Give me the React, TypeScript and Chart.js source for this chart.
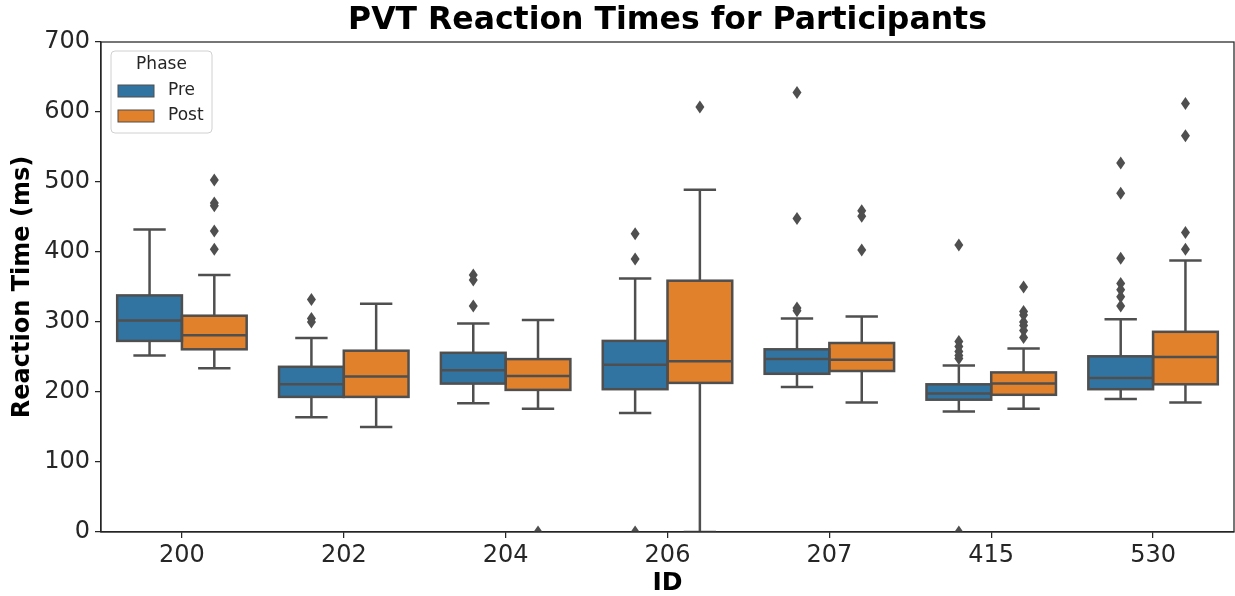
import React, { useEffect, useRef } from 'react';
import { Chart, registerables } from 'chart.js';

Chart.register(...registerables);

const ids = ['200', '202', '204', '206', '207', '415', '530'];
const yTicks = [0, 100, 200, 300, 400, 500, 600, 700];

const preLow = [252, 164, 184, 170, 207, 172, 190];
const preQ1 = [273, 193, 212, 204, 226, 189, 204];
const preMedian = [302, 211, 231, 239, 247, 198, 220];
const preQ3 = [338, 236, 256, 273, 261, 211, 251];
const preHigh = [432, 277, 298, 362, 305, 238, 304];
const preOutliers = [
  [],
  [332, 305, 300],
  [367, 360, 323],
  [426, 390, 0],
  [628, 448, 320, 316],
  [410, 272, 265, 258, 252, 248, 0],
  [527, 484, 391, 355, 346, 336, 323],
];

const postLow = [234, 150, 176, 0, 185, 176, 185];
const postQ1 = [261, 193, 203, 213, 230, 196, 211];
const postMedian = [281, 222, 223, 244, 246, 212, 250];
const postQ3 = [309, 259, 247, 359, 270, 228, 286];
const postHigh = [367, 326, 303, 489, 308, 262, 388];
const postOutliers = [
  [503, 470, 466, 430, 404],
  [],
  [0],
  [607],
  [459, 451, 403],
  [350, 315, 310, 300, 295, 288, 278],
  [612, 566, 428, 404],
];

const PRE_COLOR = '#3274a1';
const POST_COLOR = '#e1812c';
const LINE_COLOR = '#4f4f4f';
const AXIS_COLOR = '#262626';
const FONT = '"DejaVu Sans", sans-serif';

const series = [
  { name: 'Pre', color: PRE_COLOR, low: preLow, q1: preQ1, med: preMedian, q3: preQ3, high: preHigh, out: preOutliers },
  { name: 'Post', color: POST_COLOR, low: postLow, q1: postQ1, med: postMedian, q3: postQ3, high: postHigh, out: postOutliers },
];

const boxPlugin = {
  id: 'boxDetails',
  afterDatasetsDraw(chart: any) {
    const ctx = chart.ctx;
    const ys = chart.scales.y;
    const area = chart.chartArea;
    const py = (v: number) => ys.getPixelForValue(v);
    ctx.save();
    ctx.beginPath();
    ctx.rect(area.left, area.top, area.right - area.left, area.bottom - area.top);
    ctx.clip();
    ctx.strokeStyle = LINE_COLOR;
    ctx.fillStyle = LINE_COLOR;
    ctx.lineWidth = 2.5;
    const line = (x1: number, y1: number, x2: number, y2: number) => {
      ctx.beginPath();
      ctx.moveTo(x1, y1);
      ctx.lineTo(x2, y2);
      ctx.stroke();
    };
    series.forEach((s, di) => {
      const meta = chart.getDatasetMeta(di);
      meta.data.forEach((bar: any, i: number) => {
        const { x, width } = bar.getProps(['x', 'width'], true);
        const left = x - width / 2;
        const right = x + width / 2;
        line(x, py(s.q1[i]), x, py(s.low[i]));
        line(x, py(s.q3[i]), x, py(s.high[i]));
        line(x - width / 4, py(s.low[i]), x + width / 4, py(s.low[i]));
        line(x - width / 4, py(s.high[i]), x + width / 4, py(s.high[i]));
        ctx.strokeRect(left, py(s.q3[i]), width, py(s.q1[i]) - py(s.q3[i]));
        line(left, py(s.med[i]), right, py(s.med[i]));
        s.out[i].forEach((v: number) => {
          const cy = py(v);
          ctx.beginPath();
          ctx.moveTo(x, cy - 6.5);
          ctx.lineTo(x + 4.5, cy);
          ctx.lineTo(x, cy + 6.5);
          ctx.lineTo(x - 4.5, cy);
          ctx.closePath();
          ctx.fill();
        });
      });
    });
    ctx.restore();
  },
  afterDraw(chart: any) {
    const ctx = chart.ctx;
    const area = chart.chartArea;
    ctx.save();
    // spines
    ctx.strokeStyle = AXIS_COLOR;
    ctx.lineWidth = 1.25;
    ctx.strokeRect(area.left, area.top, area.right - area.left, area.bottom - area.top);
    // title
    ctx.fillStyle = '#000';
    ctx.font = `bold 31.5px ${FONT}`;
    ctx.textAlign = 'center';
    ctx.textBaseline = 'middle';
    ctx.fillText('PVT Reaction Times for Participants', (area.left + area.right) / 2, 21);
    // legend
    const lx = area.left + 10;
    const ly = area.top + 9;
    const lw = 101;
    const lh = 82;
    ctx.beginPath();
    if (ctx.roundRect) ctx.roundRect(lx, ly, lw, lh, 4);
    else ctx.rect(lx, ly, lw, lh);
    ctx.fillStyle = 'rgba(255,255,255,0.8)';
    ctx.fill();
    ctx.strokeStyle = '#d0d0d0';
    ctx.lineWidth = 1;
    ctx.stroke();
    ctx.fillStyle = AXIS_COLOR;
    ctx.font = `17px ${FONT}`;
    ctx.textAlign = 'center';
    ctx.fillText('Phase', lx + lw / 2, ly + 14);
    series.forEach((s, k) => {
      const ry = ly + 34 + k * 25;
      ctx.fillStyle = s.color;
      ctx.fillRect(lx + 7, ry, 36, 12);
      ctx.strokeStyle = LINE_COLOR;
      ctx.lineWidth = 1;
      ctx.strokeRect(lx + 7, ry, 36, 12);
      ctx.fillStyle = AXIS_COLOR;
      ctx.textAlign = 'left';
      ctx.fillText(s.name, lx + 57, ry + 6);
    });
    ctx.restore();
  },
};

export default function App() {
  const ref = useRef<HTMLCanvasElement>(null);
  useEffect(() => {
    if (!ref.current) return;
    const chart = new Chart(ref.current, {
      type: 'bar',
      data: {
        labels: ids,
        datasets: series.map((s) => ({
          label: s.name,
          data: s.q1.map((v, i) => [v, s.q3[i]]),
          backgroundColor: s.color,
          borderWidth: 0,
          categoryPercentage: 0.8,
          barPercentage: 1.0,
        })),
      },
      options: {
        animation: false,
        responsive: false,
        layout: { padding: { top: 42, right: 1, left: 0, bottom: 0 } },
        plugins: {
          legend: { display: false },
          title: { display: false },
          tooltip: { enabled: false },
        },
        scales: {
          x: {
            offset: true,
            afterFit: (scale: any) => { scale.height = 64; },
            grid: { offset: false, drawOnChartArea: false, drawTicks: true, tickLength: 6, color: AXIS_COLOR, lineWidth: 1.25 },
            border: { display: true, color: AXIS_COLOR, width: 1.25 },
            ticks: { color: AXIS_COLOR, font: { family: FONT, size: 24 }, padding: 3 },
            title: { display: true, text: 'ID', color: '#000', font: { family: FONT, size: 25, weight: 'bold' }, padding: { top: 0, bottom: -2 } },
          },
          y: {
            min: 0,
            max: 700,
            afterFit: (scale: any) => { scale.width = 101; },
            afterBuildTicks: (scale: any) => { scale.ticks = yTicks.map((v) => ({ value: v })); },
            grid: { drawOnChartArea: false, drawTicks: true, tickLength: 6, color: AXIS_COLOR, lineWidth: 1.25 },
            border: { display: true, color: AXIS_COLOR, width: 1.25 },
            ticks: { color: AXIS_COLOR, font: { family: FONT, size: 24 }, padding: 5 },
            title: { display: true, text: 'Reaction Time (ms)', color: '#000', font: { family: FONT, size: 24, weight: 'bold' }, padding: { top: 8, bottom: 0 } },
          },
        },
      },
      plugins: [boxPlugin],
    } as any);
    return () => chart.destroy();
  }, []);
  return (
    <div style={{ position: 'fixed', left: 0, top: 0, width: 1235, height: 596, background: '#fff' }}>
      <canvas ref={ref} width={1235} height={596} style={{ display: 'block' }} />
    </div>
  );
}
